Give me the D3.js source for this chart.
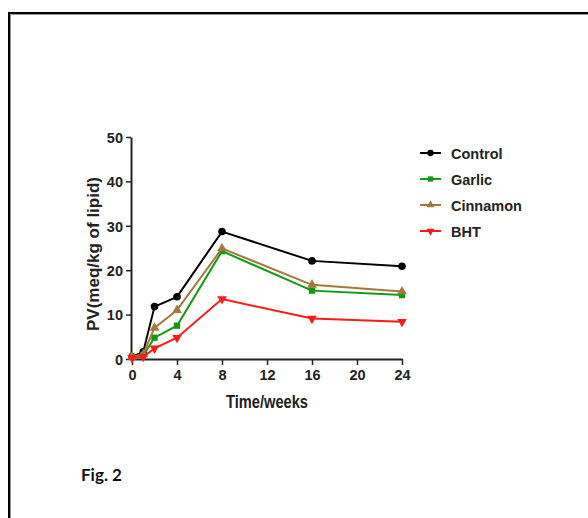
<!DOCTYPE html>
<html lang="en">
  <head>
    <meta charset="UTF-8" />
    <title>Fig. 2</title>
    <script src="https://d3js.org/d3.v7.min.js"></script>
    <style>
      body { margin: 0; background: #fff; }
      text { font-family: "Liberation Sans", Arial, sans-serif; font-weight: bold; }
    </style>
  </head>
  <body>
    <div id="chart"></div>
    <script>
      // Data
      const weeks = [0, 1, 2, 4, 8, 16, 24];
      const seriesNames = ["Control", "Garlic", "Cinnamon", "BHT"];
      const control = [0.5, 1.6, 11.8, 14.0, 28.7, 22.1, 20.9];
      const garlic = [0.5, 0.8, 4.8, 7.5, 24.3, 15.4, 14.4];
      const cinnamon = [0.5, 1.1, 7.0, 11.0, 24.9, 16.7, 15.2];
      const bht = [0.3, 0.5, 2.4, 4.8, 13.5, 9.1, 8.4];
      const xTicks = [0, 4, 8, 12, 16, 20, 24];
      const yTicks = [0, 10, 20, 30, 40, 50];

      const width = 588, height = 518;
      const svg = d3.select("#chart").append("svg")
        .attr("width", width).attr("height", height);

      // page frame (black line with a grey inner edge)
      svg.append("path")
        .attr("d", `M9,${height} V13 H${width}`)
        .attr("fill", "none").attr("stroke", "#000").attr("stroke-width", 2);
      svg.append("path")
        .attr("d", `M10.5,${height} V14.5 H${width}`)
        .attr("fill", "none").attr("stroke", "#999").attr("stroke-width", 1);

      const x = d3.scaleLinear().domain([0, 24]).range([132, 402]);
      const y = d3.scaleLinear().domain([0, 50]).range([359, 137]);

      // axes
      const xAxis = svg.append("g")
        .attr("transform", `translate(0,${y(0)})`)
        .call(d3.axisBottom(x).tickValues(xTicks).tickSize(6).tickPadding(5).tickSizeOuter(0));
      const yAxis = svg.append("g")
        .attr("transform", `translate(${x(0) - 1},0)`)
        .call(d3.axisLeft(y).tickValues(yTicks).tickSize(5).tickPadding(3).tickSizeOuter(0));
      [xAxis, yAxis].forEach(g => {
        g.attr("font-size", null).attr("font-family", null);
        g.select(".domain").attr("stroke", "#222").attr("stroke-width", 2);
        g.selectAll(".tick line").attr("stroke", "#222").attr("stroke-width", 1.5);
        g.selectAll(".tick text")
          .attr("fill", "#222")
          .style("font-size", "14.5px");
      });
      yAxis.selectAll(".tick text").attr("dy", "0.36em");

      // x title is set in a narrow face in the original, so squeeze it
      svg.append("text")
        .attr("x", 267).attr("y", 408)
        .attr("text-anchor", "middle")
        .attr("textLength", 82)
        .attr("lengthAdjust", "spacingAndGlyphs")
        .attr("fill", "#222")
        .style("font-size", "18px")
        .text("Time/weeks");

      svg.append("text")
        .attr("transform", "translate(99,254) rotate(-90)")
        .attr("text-anchor", "middle")
        .attr("fill", "#222")
        .style("font-size", "17px")
        .text("PV(meq/kg of lipid)");

      const series = [
        { name: "Control", values: control, color: "#000000", shape: d3.symbolCircle, size: 45, rot: 0 },
        { name: "Garlic", values: garlic, color: "#119a11", shape: d3.symbolSquare, size: 40, rot: 0 },
        { name: "Cinnamon", values: cinnamon, color: "#a3793a", shape: d3.symbolTriangle, size: 40, rot: 0 },
        { name: "BHT", values: bht, color: "#ff1a1a", shape: d3.symbolTriangle, size: 40, rot: 180 }
      ];

      const line = d3.line().x((d, i) => x(weeks[i])).y(d => y(d));

      series.forEach(s => {
        svg.append("path")
          .datum(s.values)
          .attr("d", line)
          .attr("fill", "none")
          .attr("stroke", s.color)
          .attr("stroke-width", 2);
        svg.append("g").selectAll("path")
          .data(s.values)
          .join("path")
          .attr("d", d3.symbol().type(s.shape).size(s.size))
          .attr("transform", (d, i) => `translate(${x(weeks[i])},${y(d)}) rotate(${s.rot})`)
          .attr("fill", s.color);
      });

      // legend
      const legend = svg.append("g").attr("transform", "translate(420,153)");
      series.forEach((s, i) => {
        const row = legend.append("g").attr("transform", `translate(0,${i * 26})`);
        row.append("line").attr("x1", 0).attr("x2", 21)
          .attr("stroke", s.color).attr("stroke-width", 2);
        row.append("path")
          .attr("d", d3.symbol().type(s.shape).size(s.size * 0.7))
          .attr("transform", `translate(10.5,0) rotate(${s.rot})`)
          .attr("fill", s.color);
        row.append("text")
          .attr("x", 31).attr("y", 5.5)
          .attr("fill", "#222")
          .style("font-size", "14.5px")
          .text(s.name);
      });

      svg.append("text")
        .attr("x", 81).attr("y", 481)
        .attr("fill", "#111")
        .style("font-family", "Lato, 'Liberation Sans', sans-serif")
        .style("font-size", "17px")
        .text("Fig. 2");
    </script>
  </body>
</html>
